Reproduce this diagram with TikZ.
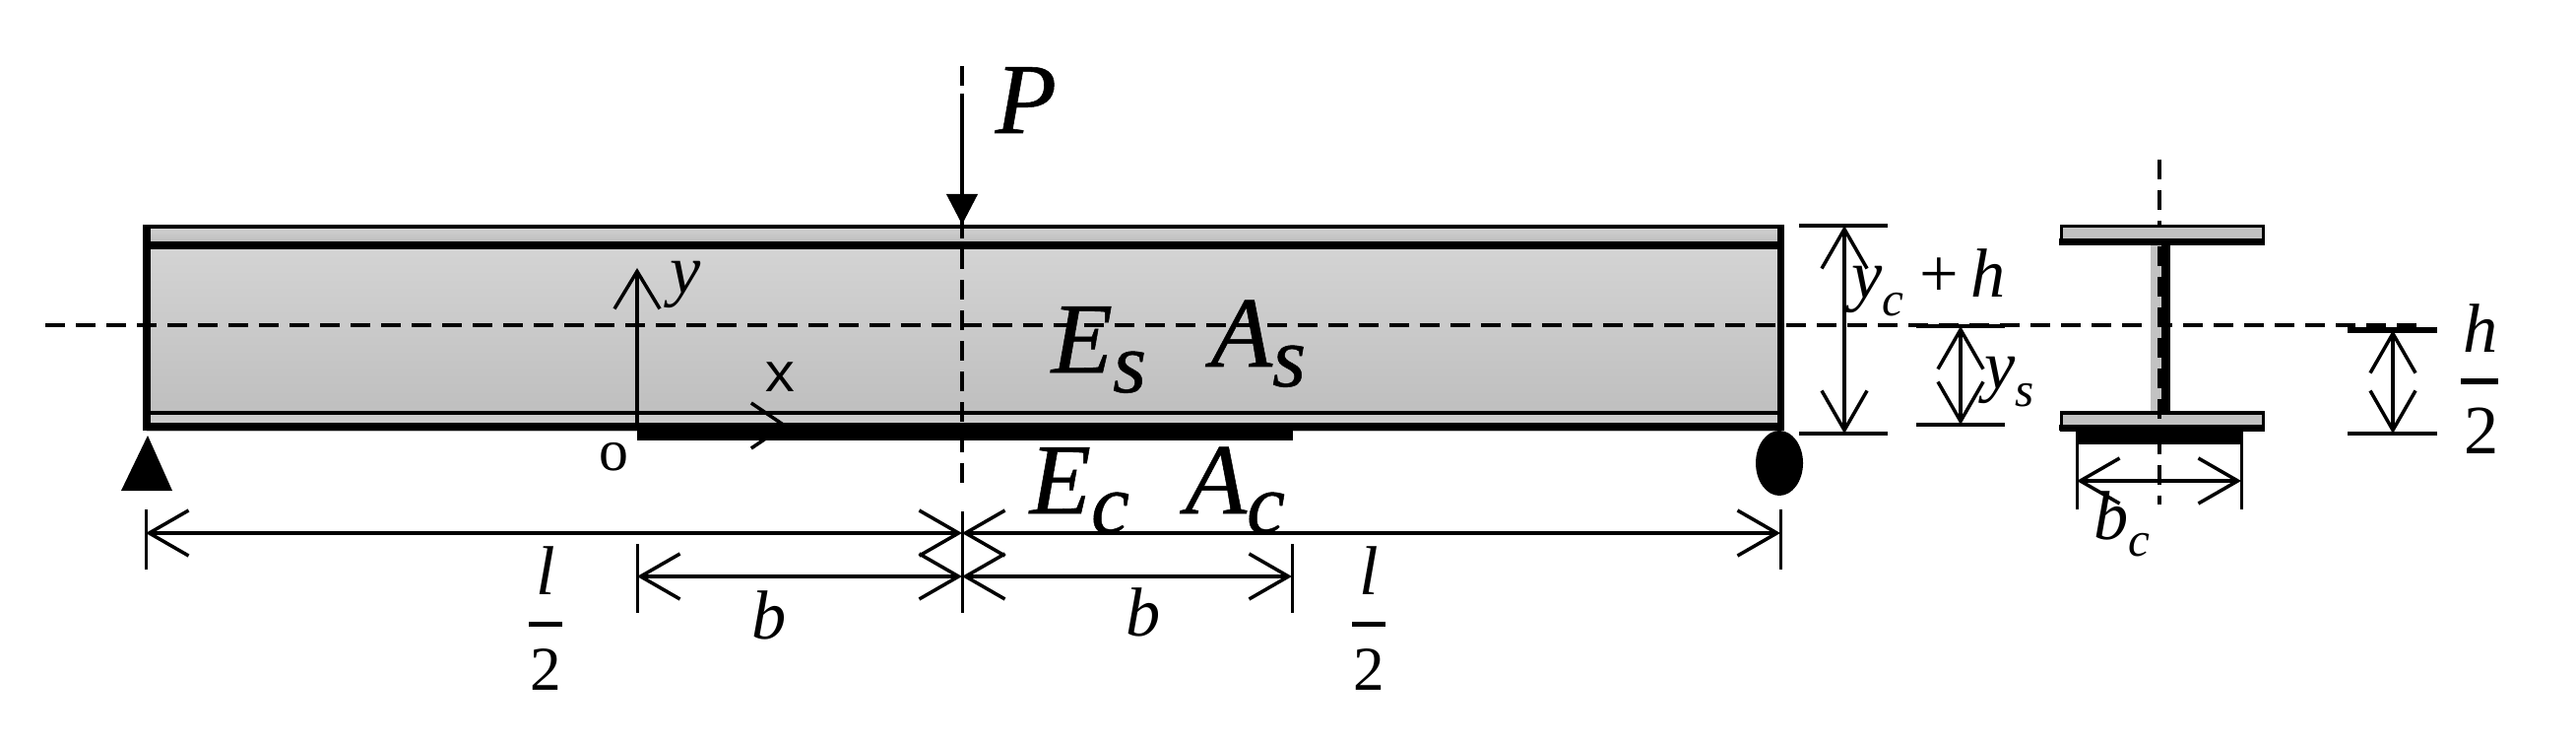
\documentclass[tikz,border=0pt]{standalone}
\usepackage{fontspec}
\setmainfont{Liberation Serif}
\setmonofont{Liberation Mono}
\newfontfamily\heavyfont[FakeBold=0.5,UprightFont=* Italic]{Liberation Serif}
\usepackage{tikz}
\usetikzlibrary{arrows.meta}
\newcommand{\bigsym}[2]{#1\raisebox{-5.7pt}{\fontsize{25}{25}\selectfont #2}}
\newcommand{\smallsym}[2]{#1\raisebox{-5pt}{\fontsize{14}{14}\selectfont #2}}
\begin{document}
\begin{tikzpicture}[x=.01cm,y=-.01cm,
dimline/.style={line width=.035cm,{Straight Barb[length=.4cm,width=.46cm]}-{Straight Barb[length=.4cm,width=.46cm]}},
tickline/.style={line width=.03cm},
barline/.style={line width=.05cm},
centerline/.style={line width=.035cm,dash pattern=on .2cm off .11cm},
biglabel/.style={inner sep=0pt,anchor=base west,font=\fontsize{29}{29}\heavyfont\selectfont},
smalllabel/.style={inner sep=0pt,anchor=base,font=\fontsize{20}{20}\selectfont\itshape}
]
\useasboundingbox (0,0) rectangle (2616,752);
% beam
\shade[top color=black!16,bottom color=black!26] (149,230) rectangle (1809,437);
\shade[top color=black!18,bottom color=black!26] (149,230) rectangle (1809,247);
\fill[black!20] (149,420) rectangle (1809,430);
\draw[line width=.045cm] (149,230) -- (1809,230);
\fill (149,245) rectangle (1809,253);
\fill (149,417) rectangle (1809,421);
\fill (149,429) rectangle (1809,437);
\fill (145,228) rectangle (153,437);
\fill (1805,228) rectangle (1812,437);
\fill (647,430) rectangle (1313,447);
% supports
\fill (150,442) -- (175,498) -- (123,498) -- cycle;
\fill (1807,470) ellipse (24 and 33);
% centre lines
\draw[centerline] (46,330) -- (2465,330);
\draw[centerline,line width=.04cm] (977,67) -- (977,500);
\draw[centerline,line width=.04cm] (2193,162) -- (2193,512);
% load and axes
\coordinate (loadtop) at (977,95);
\coordinate (loadtip) at (977,228);
\draw[line width=.04cm,-{Triangle[length=.31cm,width=.31cm]}] (loadtop) -- (loadtip);
\coordinate (origin) at (647,437);
\coordinate (ytip) at (647,272);
\coordinate (xtip) at (800,432);
\coordinate (xstart) at (647,432);
\draw[line width=.035cm,-{Straight Barb[length=.38cm,width=.46cm]}] (origin) -- (ytip);
\draw[line width=.035cm,-{Straight Barb[length=.34cm,width=.46cm]}] (xstart) -- (xtip);
% section
\filldraw[fill=black!24,line width=.03cm] (2093,230) rectangle (2298,247);
\fill (2091,242) rectangle (2300,249);
\fill[black!24] (2184,249) rectangle (2195,417);
\fill (2195,249) rectangle (2204,417);
\filldraw[fill=black!24,line width=.03cm] (2093,419) rectangle (2298,436);
\fill (2091,431) rectangle (2300,437);
\fill (2108,437) rectangle (2278,451);
\draw[centerline,line width=.04cm] (2193,250) -- (2193,430);
% dimensions
\coordinate (dl1) at (148,541);
\coordinate (dm1) at (977,541);
\coordinate (dr1) at (1808,541);
\coordinate (dl2) at (647,585);
\coordinate (dm2) at (977,585);
\coordinate (dr2) at (1312,585);
\draw[dimline] (dl1) -- (dm1);
\draw[dimline] (dm1) -- (dr1);
\draw[dimline] (dl2) -- (dm2);
\draw[dimline] (dm2) -- (dr2);
\foreach \xa/\ya/\yb in {148/517/578,977/519/622,1808/517/578,647/552/622,1312/552/622}
  \draw[tickline] (\xa,\ya) -- (\xa,\yb);
\coordinate (yct) at (1873,229);
\coordinate (ycb) at (1873,440);
\coordinate (yst) at (1991,331);
\coordinate (ysb) at (1991,431);
\coordinate (ht) at (2430,335);
\coordinate (hb) at (2430,440);
\coordinate (bcl) at (2109,488);
\coordinate (bcr) at (2276,488);
\draw[dimline] (yct) -- (ycb);
\draw[dimline] (yst) -- (ysb);
\draw[dimline] (ht) -- (hb);
\draw[dimline] (bcl) -- (bcr);
\foreach \xa/\xb/\ya in {1827/1917/229,1827/1917/440,1946/2036/331,1946/2036/431,2384/2475/440}
  \draw[barline,line width=.04cm] (\xa,\ya) -- (\xb,\ya);
\draw[line width=.055cm] (2384,335) -- (2475,335);
\foreach \xa in {2109,2276}
  \draw[tickline] (\xa,451) -- (\xa,517);
% labels
\node[biglabel] (loadlabel) at (1010,135) {P};
\node[biglabel] (steelE) at (1067,378) {\bigsym{E}{s}};
\node[biglabel] (steelA) at (1229,372) {\bigsym{A}{s}};
\node[biglabel] (coverE) at (1045,521) {\bigsym{E}{c}};
\node[biglabel] (coverA) at (1203,521) {\bigsym{A}{c}};
\node[smalllabel] (ylabel) at (696,298) {y};
\node[smalllabel,font=\fontsize{16}{16}\selectfont\ttfamily] (xlabel) at (792,397) {x};
\node[smalllabel,font=\fontsize{17}{17}\selectfont] (olabel) at (623,477) {o};
\node[smalllabel] (bleft) at (781,648) {b};
\node[smalllabel] (bright) at (1161,645) {b};
\node[smalllabel,anchor=base west] (yclabel) at (1880,303) {\smallsym{y}{c}};
\node[smalllabel,anchor=base west,font=\fontsize{20}{20}\selectfont] (plush) at (1949,302) {+\,\itshape h};
\node[smalllabel,anchor=base west] (yslabel) at (2015,395) {\smallsym{y}{s}};
\node[smalllabel,anchor=base west] (bclabel) at (2126,547) {\smallsym{b}{c}};
\foreach \xa/\nm in {554/lfl,1390/lfr}{
  \node[smalllabel] (\nm a) at (\xa,603) {l};
  \node[smalllabel,font=\fontsize{18}{18}\selectfont] (\nm b) at (\xa,700) {2};
  \draw[barline] (\xa-17,633) -- (\xa+17,633);
}
\node[smalllabel] (hnum) at (2519,358) {h};
\node[smalllabel,font=\fontsize{20}{20}\selectfont] (hden) at (2520,460) {2};
\draw[barline] (2499,387) -- (2537,387);
\end{tikzpicture}
\end{document}
